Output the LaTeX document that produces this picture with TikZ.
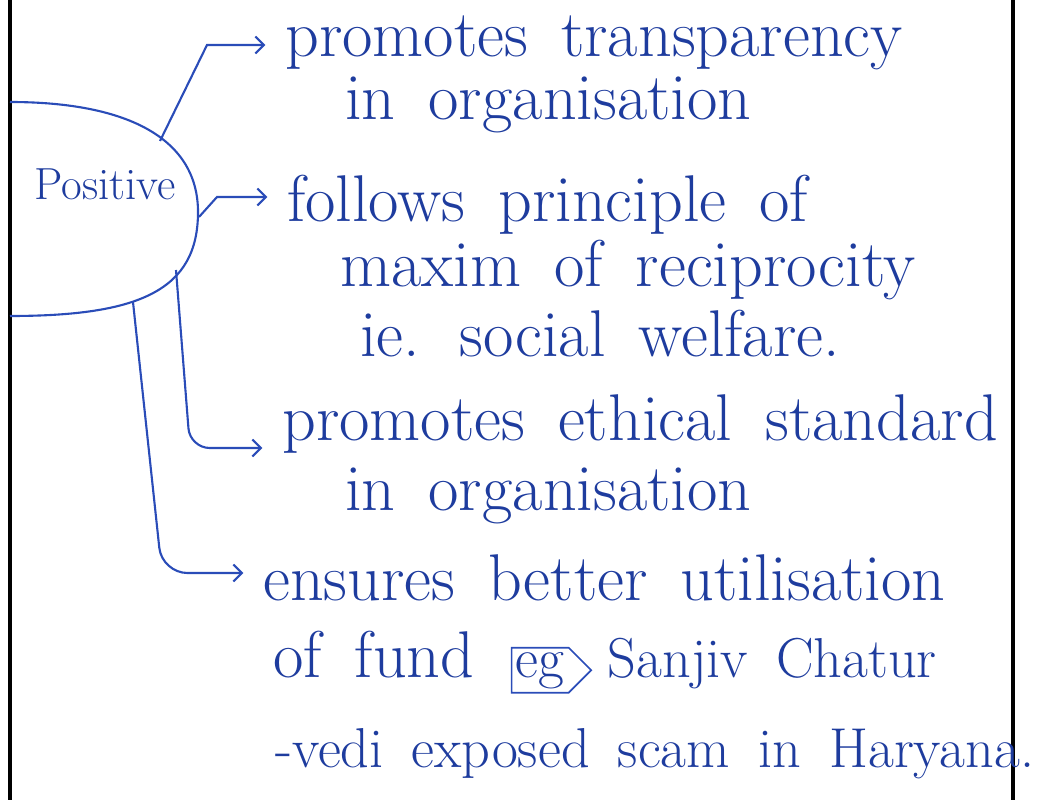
\documentclass[tikz,border=0pt]{standalone}
\usepackage{tikz}
\usetikzlibrary{arrows.meta,positioning,calc,shapes.symbols}
\definecolor{inkblue}{HTML}{1E3C9E}
\definecolor{lineblue}{HTML}{2A4CB8}
\newcommand{\loosesp}{\spaceskip=0.5em plus 0.1em\relax}

\begin{document}
\begin{tikzpicture}[
  x=0.025cm, y=-0.025cm,
  every node/.style={text=inkblue},
  txt/.style={anchor=base west, inner sep=0pt,
              font=\fontsize{47}{54}\selectfont\loosesp},
  txtsm/.style={txt, font=\fontsize{40}{46}\selectfont\loosesp},
  lbl/.style={anchor=base, inner sep=0pt, font=\fontsize{32}{38}\selectfont},
  egbox/.style={draw=lineblue, signal, signal to=east, line width=1.2pt,
                inner sep=3pt, font=\fontsize{40}{46}\selectfont},
  link/.style={draw=lineblue, line width=1.5pt,
               -{Straight Barb[length=6pt,width=12pt]}, shorten >=14pt},
  rim/.style={draw=lineblue, line width=1.5pt}
]
\useasboundingbox (0,0) rectangle (1040,800);

%% Page margins
\draw[line width=2.2pt] (10,0) -- (10,800);
\draw[line width=2.2pt] (1013,0) -- (1013,800);

%% Positive bubble
\draw[rim] (10,102) .. controls (130,102) and (198,140) .. (198,212)
  .. controls (198,290) and (140,316) .. (10,316);
\node[lbl] (pos) at (105,200) {Positive};
\coordinate (t1) at (160,141);
\coordinate (t2) at (199,217);
\coordinate (t3) at (176,270);
\coordinate (t4) at (133,302);

%% Points (placed on their base lines)
\node[txt] (n1)  at (285,57)  {promotes transparency};
\node[txt] (n2)  at (345,120) {in organisation};
\node[txt] (n3)  at (287,222) {follows principle of};
\node[txt] (n4)  at (340,287) {maxim of reciprocity};
\node[txt] (n5)  at (360,357) {ie. social welfare.};
\node[txt] (n6)  at (282,441) {promotes ethical standard};
\node[txt] (n7)  at (345,510) {in organisation};
\node[txt] (n8)  at (263,600) {ensures better utilisation};
\node[txt] (n9)  at (273,677) {of fund};
\node[egbox, base right=0.9cm of n9] (eg) {eg};
\node[txtsm, base right=0.55cm of eg] (n9b) {Sanjiv Chatur};
\node[txtsm] (n10) at (275,767) {-vedi exposed scam in Haryana.};

%% Arrows out of the bubble
\draw[link] (t1) -- ($(n1.base west)+(-78,-12)$) -- ($(n1.base west)+(0,-12)$);
\draw[link] (t2) -- ($(n3.base west)+(-70,-25)$) -- ($(n3.base west)+(0,-25)$);
\draw[link, rounded corners=14pt] (t3) -- ($(n6.base west)+(-92,7)$)
  -- ($(n6.base west)+(0,7)$);
\draw[link, rounded corners=18pt] (t4) -- ($(n8.base west)+(-101,-27)$)
  -- ($(n8.base west)+(0,-27)$);

\end{tikzpicture}
\end{document}
